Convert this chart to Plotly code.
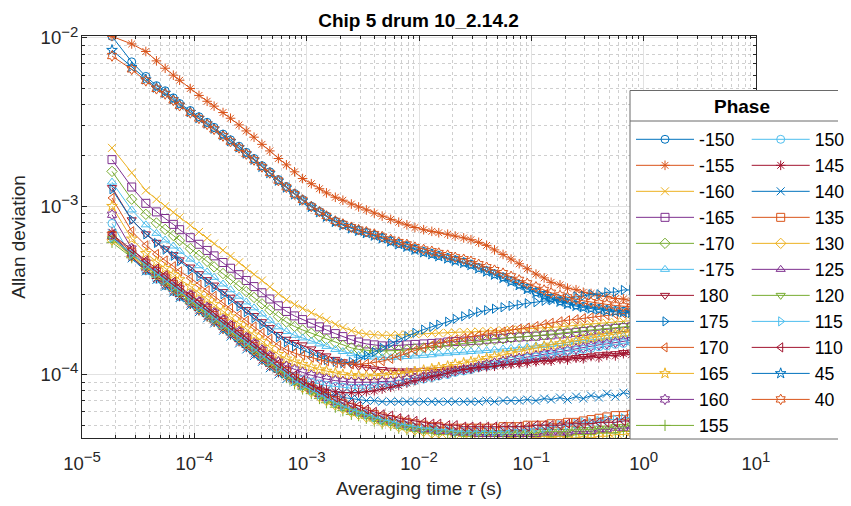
import plotly.graph_objects as go

# ---------------- data (Allan deviation in units of 1e-6) ----------------
UNIT = 1e-6
tau_s = [1.85e-5, 2.77e-5, 3.7e-5, 4.6e-5, 5.5e-5, 6.5e-5, 7.4e-5, 9.2e-5,
         1.1e-4, 1.3e-4, 1.5e-4, 1.8e-4, 2.1e-4, 2.5e-4, 2.9e-4, 3.4e-4, 4.0e-4, 4.7e-4, 5.6e-4, 6.6e-4, 7.8e-4, 9.2e-4,
         1.1e-3, 1.3e-3, 1.5e-3, 1.8e-3, 2.1e-3, 2.5e-3, 2.9e-3, 3.4e-3, 4.0e-3, 4.7e-3, 5.6e-3, 6.6e-3, 7.8e-3, 9.2e-3,
         1.1e-2, 1.3e-2, 1.5e-2, 1.8e-2, 2.1e-2, 2.5e-2, 2.9e-2, 3.4e-2, 4.0e-2, 4.7e-2, 5.6e-2, 6.6e-2, 7.8e-2, 9.2e-2,
         0.11, 0.13, 0.15, 0.18, 0.21, 0.25, 0.29, 0.34, 0.40, 0.47, 0.56, 0.66, 0.78, 0.92]

adev_m150 = [10200, 7200, 5900, 5200, 4850, 4400, 4070, 3700,
             3400, 3150, 2940, 2680, 2480, 2270, 2090, 1920, 1740, 1600, 1440, 1310, 1190, 1095,
             1000, 930, 875, 815, 780, 745, 720, 698, 675, 650, 622, 600, 580, 557,
             538, 524, 510, 495, 480, 466, 452, 432, 414, 397, 380, 362, 344, 326,
             310, 297, 285, 274, 266, 259, 254, 250, 247, 243, 240, 238, 236, 236]
adev_m155 = [10200, 9200, 8300, 7300, 6600, 6000, 5600, 5000,
             4550, 4200, 3930, 3600, 3330, 3040, 2800, 2570, 2330, 2130, 1920, 1760, 1600, 1460,
             1360, 1270, 1200, 1130, 1085, 1030, 990, 950, 910, 873, 835, 803, 775, 747,
             725, 709, 696, 682, 665, 648, 632, 610, 585, 550, 517, 485, 455, 425,
             395, 375, 353, 341, 326, 319, 308, 303, 294, 291, 283, 281, 274, 274]
adev_m160 = [2220, 1580, 1240, 1100, 1000, 920, 860, 770,
             703, 646, 600, 548, 506, 464, 428, 394, 362, 332, 302, 278, 261, 247,
             233, 220, 210, 199, 190, 182, 177, 174, 172, 171, 171, 172, 173, 174,
             175, 176, 176, 177, 178, 179, 179, 180, 181, 182, 183, 184, 185, 186,
             188, 189, 191, 192, 194, 196, 198, 199, 201, 203, 205, 207, 209, 211]
adev_m165 = [1890, 1300, 1040, 925, 845, 780, 725, 650,
             594, 546, 507, 463, 428, 392, 362, 333, 306, 281, 256, 237, 223, 212,
             202, 192, 184, 175, 168, 161, 156, 152, 150, 148, 148, 149, 150, 151,
             152, 153, 154, 156, 157, 158, 159, 160, 162, 163, 164, 166, 167, 168,
             169, 171, 172, 174, 176, 178, 180, 182, 184, 186, 188, 190, 192, 194]
adev_m170 = [1610, 1100, 895, 795, 728, 670, 625, 560,
             511, 470, 436, 398, 368, 337, 311, 287, 263, 242, 221, 205, 193, 184,
             176, 168, 162, 155, 149, 144, 141, 139, 138, 138, 138, 139, 140, 142,
             144, 146, 148, 150, 151, 153, 155, 157, 159, 161, 163, 165, 167, 168,
             170, 172, 174, 176, 178, 180, 182, 184, 186, 188, 190, 192, 194, 196]
adev_m175 = [1390, 950, 775, 690, 630, 580, 540, 485,
             443, 407, 378, 345, 319, 292, 270, 249, 229, 210, 192, 180, 171, 165,
             158, 152, 147, 141, 137, 133, 130, 128, 127, 126, 126, 127, 128, 129,
             130, 131, 133, 134, 135, 136, 137, 138, 139, 140, 142, 143, 144, 146,
             148, 149, 151, 153, 155, 157, 159, 161, 163, 165, 167, 169, 171, 173]
adev_180 = [1290, 830, 685, 610, 558, 515, 480, 435,
            397, 366, 340, 311, 288, 263, 243, 224, 206, 190, 173, 162, 155, 150,
            142, 135, 129, 123, 119, 115, 112, 110, 108, 107, 106, 105, 105, 105,
            106, 106, 107, 108, 108, 109, 110, 111, 112, 113, 115, 116, 117, 119,
            120, 121, 122, 124, 125, 126, 128, 129, 131, 132, 133, 135, 136, 138]
adev_175 = [1260, 830, 680, 605, 552, 508, 472, 420,
            383, 354, 329, 300, 278, 254, 235, 217, 199, 183, 167, 156, 147, 140,
            133, 127, 122, 119, 117, 119, 124, 130, 136, 144, 153, 161, 169, 177,
            185, 192, 198, 206, 214, 222, 229, 235, 241, 246, 251, 256, 260, 265,
            269, 274, 276, 282, 284, 291, 293, 300, 300, 308, 309, 318, 318, 326]
adev_170 = [1120, 710, 585, 520, 476, 440, 410, 375,
            342, 316, 293, 268, 248, 226, 209, 193, 177, 163, 149, 140, 134, 130,
            126, 122, 120, 117, 116, 115, 115, 116, 118, 120, 124, 129, 134, 139,
            144, 149, 153, 158, 161, 165, 168, 171, 174, 177, 180, 184, 187, 190,
            194, 199, 203, 207, 210, 213, 216, 219, 222, 225, 228, 231, 234, 237]
adev_165 = [1000, 640, 525, 467, 428, 394, 367, 335,
            306, 282, 262, 239, 221, 202, 187, 172, 158, 145, 132, 124, 119, 115,
            111, 107, 105, 102, 100, 99, 98, 98, 98, 99, 100, 101, 102, 104,
            106, 108, 110, 112, 115, 117, 119, 122, 125, 128, 131, 134, 137, 140,
            144, 147, 150, 153, 156, 159, 162, 165, 168, 171, 174, 177, 180, 183]
adev_160 = [890, 560, 462, 412, 376, 347, 323, 297,
            271, 251, 233, 212, 196, 180, 166, 153, 140, 129, 119, 112, 107, 103,
            99, 96, 94, 92, 91, 90, 90, 90, 90, 91, 91, 92, 94, 95,
            97, 99, 100, 102, 105, 107, 109, 112, 115, 117, 120, 123, 125, 127,
            129, 132, 134, 137, 139, 142, 144, 147, 150, 152, 155, 157, 160, 163]
adev_155 = [610, 494, 425, 380, 347, 317, 297, 265,
            242, 223, 207, 189, 175, 160, 148, 136, 124, 114, 104, 96, 88, 82,
            77, 72, 68, 64, 61, 58, 57, 55, 53, 51, 50, 48, 47, 46,
            45, 45, 44, 44, 44, 43, 43, 43, 43, 43, 43, 43, 43, 43,
            43, 43, 43, 43, 43, 44, 44, 44, 45, 45, 45, 46, 46, 47]
adev_150 = [790, 500, 413, 368, 337, 311, 290, 266,
            243, 225, 209, 190, 176, 161, 149, 137, 126, 116, 107, 101, 97, 93,
            90, 88, 86, 85, 84, 83, 83, 83, 84, 85, 86, 88, 90, 92,
            94, 96, 98, 100, 103, 105, 107, 110, 112, 114, 117, 120, 122, 125,
            127, 129, 131, 134, 137, 139, 141, 143, 146, 148, 151, 153, 156, 158]
adev_145 = [700, 500, 418, 372, 340, 313, 291, 262,
            240, 221, 205, 186, 172, 157, 145, 133, 122, 112, 103, 97, 93, 89,
            86, 83, 81, 79, 78, 78, 78, 79, 80, 82, 84, 86, 89, 92,
            95, 97, 99, 102, 105, 107, 108, 110, 111, 112, 114, 115, 116, 117,
            119, 121, 120, 123, 122, 125, 124, 128, 126, 130, 129, 133, 131, 135]
adev_140 = [690, 490, 410, 365, 333, 307, 285, 256,
            235, 216, 201, 182, 168, 153, 141, 129, 119, 109, 100, 94, 90, 86,
            82, 79, 77, 75, 73, 72, 71, 70, 70, 69, 69, 69, 69, 69,
            69, 69, 69, 69, 69, 69, 69, 69, 70, 69, 70, 70, 70, 71,
            70, 72, 71, 73, 71, 74, 72, 75, 73, 77, 74, 78, 76, 80]
adev_135 = [670, 534, 459, 410, 375, 342, 321, 286,
            261, 241, 224, 204, 189, 173, 160, 147, 134, 123, 112, 104, 95, 89,
            83, 78, 74, 70, 67, 64, 62, 60, 58, 56, 54, 53, 52, 51,
            50, 49, 49, 48, 48, 48, 48, 48, 48, 48, 49, 49, 49, 50,
            50, 50, 51, 51, 52, 52, 53, 54, 55, 56, 57, 57, 58, 58]
adev_130 = [630, 505, 437, 391, 357, 326, 306, 273,
            249, 230, 213, 195, 180, 165, 152, 140, 128, 117, 107, 99, 91, 84,
            79, 74, 70, 66, 63, 60, 58, 56, 54, 52, 51, 49, 48, 47,
            46, 45, 45, 44, 44, 44, 43, 43, 43, 43, 43, 42, 43, 43,
            42, 43, 42, 43, 42, 42, 43, 42, 43, 43, 44, 44, 45, 45]
adev_125 = [660, 522, 450, 403, 368, 336, 315, 281,
            257, 236, 219, 200, 186, 170, 157, 144, 131, 121, 110, 102, 93, 87,
            82, 76, 72, 68, 65, 62, 60, 58, 56, 54, 53, 51, 50, 48,
            47, 47, 46, 46, 45, 45, 45, 44, 44, 44, 44, 44, 44, 44,
            44, 45, 45, 45, 45, 46, 46, 46, 47, 47, 48, 48, 49, 49]
adev_120 = [640, 514, 442, 395, 361, 330, 309, 276,
            252, 232, 215, 197, 182, 166, 154, 141, 129, 119, 108, 100, 92, 85,
            80, 75, 71, 67, 64, 61, 59, 57, 55, 53, 52, 50, 49, 48,
            47, 47, 46, 46, 45, 45, 45, 45, 45, 45, 45, 45, 45, 45,
            45, 46, 46, 46, 46, 47, 47, 47, 48, 48, 49, 49, 50, 50]
adev_115 = [650, 519, 446, 399, 364, 333, 312, 278,
            254, 234, 217, 198, 184, 168, 155, 143, 130, 120, 109, 101, 92, 86,
            81, 76, 72, 68, 65, 62, 60, 58, 56, 54, 53, 51, 50, 49,
            48, 48, 47, 47, 46, 46, 46, 46, 46, 46, 46, 47, 47, 47,
            48, 48, 49, 50, 50, 51, 52, 52, 53, 54, 54, 55, 56, 56]
adev_110 = [680, 553, 476, 426, 389, 355, 333, 297,
            271, 250, 232, 212, 196, 179, 166, 152, 139, 128, 116, 108, 99, 92,
            86, 81, 77, 73, 70, 67, 65, 62, 60, 58, 57, 55, 54, 53,
            52, 51, 51, 50, 50, 49, 49, 49, 49, 49, 49, 49, 49, 49,
            50, 50, 50, 50, 51, 51, 51, 51, 52, 52, 52, 53, 53, 53]
adev_45 = [8450, 6700, 5650, 5050, 4700, 4300, 4000, 3620,
           3330, 3090, 2880, 2630, 2430, 2230, 2050, 1885, 1710, 1570, 1415, 1288, 1172, 1080,
           988, 918, 864, 805, 771, 736, 712, 690, 667, 642, 615, 593, 573, 550,
           531, 517, 503, 488, 473, 459, 446, 426, 408, 391, 374, 356, 339, 321,
           305, 292, 281, 270, 262, 255, 250, 246, 243, 239, 236, 234, 232, 232]
adev_40 = [7800, 6500, 5550, 4980, 4640, 4250, 3950, 3580,
           3320, 3060, 2860, 2610, 2420, 2220, 2040, 1880, 1710, 1575, 1420, 1295, 1180, 1090,
           995, 928, 875, 817, 784, 750, 726, 705, 683, 660, 634, 612, 593, 571,
           553, 540, 527, 512, 497, 484, 471, 452, 434, 417, 400, 383, 365, 348,
           332, 318, 306, 295, 287, 280, 274, 269, 265, 261, 257, 254, 251, 250]

phase_labels = ["-150", "-155", "-160", "-165", "-170", "-175", "180", "175", "170", "165", "160", "155",
                "150", "145", "140", "135", "130", "125", "120", "115", "110", "45", "40"]
series_values = [adev_m150, adev_m155, adev_m160, adev_m165, adev_m170, adev_m175, adev_180, adev_175,
                 adev_170, adev_165, adev_160, adev_155, adev_150, adev_145, adev_140, adev_135, adev_130,
                 adev_125, adev_120, adev_115, adev_110, adev_45, adev_40]
for lab, vals in zip(phase_labels, series_values):
    assert len(vals) == len(tau_s), (lab, len(vals), len(tau_s))

SUP = "<sup><span style='font-size:15px'>{}</span></sup>"
x_tick_vals = [1e-5, 1e-4, 1e-3, 1e-2, 1e-1, 1e0, 1e1]
x_tick_text = ["10" + SUP.format(e) for e in ["\u22125", "\u22124", "\u22123", "\u22122", "\u22121", "0", "1"]]
y_tick_vals = [1e-4, 1e-3, 1e-2]
y_tick_text = ["10" + SUP.format(e) for e in ["\u22124", "\u22123", "\u22122"]]

# ---------------- styles ----------------
colors = ["#0072BD", "#D95319", "#EDB120", "#7E2F8E", "#77AC30", "#4DBEEE", "#A2142F"]
symbols = ["circle-open", "asterisk-open", "x-thin-open", "square-open", "diamond-open",
           "triangle-up-open", "triangle-down-open", "triangle-right-open", "triangle-left-open",
           "star-open", "hexagram-open", "cross-thin-open"]
FONT = "Liberation Sans, Arial, sans-serif"
AX = "#262626"

# plot area in pixels
L, R, T, B = 82, 756, 36, 438
W, H = R - L, B - T
def px_x(p):
    return (p - L) / W
def px_y(p):
    return (B - p) / H

fig = go.Figure()
for i, (lab, vals) in enumerate(zip(phase_labels, series_values)):
    c = colors[i % 7]
    sym = symbols[i % 12]
    fig.add_trace(go.Scatter(
        x=tau_s, y=[v * UNIT for v in vals], mode="lines+markers", name=lab,
        line=dict(color=c, width=1),
        marker=dict(symbol=sym, size=8, color=c, line=dict(color=c, width=1)),
        legend="legend" if i < 12 else "legend2",
    ))

minor_x = [m * 10.0 ** e for e in range(-5, 1) for m in range(2, 10)]
minor_y = [m * 10.0 ** e for e in range(-5, -1) for m in range(2, 10) if m * 10.0 ** e > 4.2e-5]

common_axis = dict(
    type="log", ticks="inside", ticklen=5, tickwidth=1, tickcolor=AX,
    showline=True, linecolor=AX, linewidth=1, mirror="ticks",
    showgrid=True, gridcolor="#e2e2e2", gridwidth=1, zeroline=False,
    tickfont=dict(family=FONT, size=18.5, color=AX),
)

fig.update_layout(
    width=851, height=506,
    paper_bgcolor="white", plot_bgcolor="white",
    margin=dict(l=L, r=851 - R, t=T, b=506 - B, autoexpand=False),
    font=dict(family=FONT, color=AX),
    title=dict(text="<b>Chip 5 drum 10_2.14.2</b>", x=418.5 / 851, xanchor="center",
               y=1 - 20 / 506, yanchor="middle", font=dict(family=FONT, size=19, color="#000000")),
    xaxis=dict(**common_axis, range=[-5, 1], tickmode="array", tickvals=x_tick_vals, ticktext=x_tick_text,
               ticklabelstandoff=9,
               minor=dict(tickmode="array", tickvals=minor_x, ticks="inside", ticklen=3, tickcolor=AX,
                          showgrid=True, gridcolor="#cfcfcf", griddash="dot", gridwidth=1),
               title=dict(text="Averaging time <i>τ</i> (s)", font=dict(family=FONT, size=19, color=AX), standoff=8)),
    yaxis=dict(**common_axis, range=[-4.377, -1.989], tickmode="array", tickvals=y_tick_vals, ticktext=y_tick_text,
               ticklabelstandoff=-1,
               minor=dict(tickmode="array", tickvals=minor_y, ticks="inside", ticklen=3, tickcolor=AX,
                          showgrid=True, gridcolor="#cfcfcf", griddash="dot", gridwidth=1),
               title=dict(text="Allan deviation", font=dict(family=FONT, size=19, color=AX), standoff=9)),
    legend=dict(x=px_x(631), xanchor="left", y=px_y(121.3), yanchor="top", bgcolor="rgba(0,0,0,0)",
                borderwidth=0, itemwidth=58, tracegroupgap=0,
                font=dict(family=FONT, size=17.7, color="#000000")),
    legend2=dict(x=px_x(746.7), xanchor="left", y=px_y(121.3), yanchor="top", bgcolor="rgba(0,0,0,0)",
                 borderwidth=0, itemwidth=58, tracegroupgap=0,
                 font=dict(family=FONT, size=17.7, color="#000000")),
    showlegend=True,
)

# legend box (white, drawn over the data) with header line
BOX = "#6a6a6a"
shapes = [
    dict(type="rect", xref="paper", yref="paper", x0=px_x(630), x1=px_x(860), y0=px_y(439), y1=px_y(90.5),
         fillcolor="white", line=dict(width=0), layer="above"),
    dict(type="line", xref="paper", yref="paper", x0=px_x(630), x1=px_x(630), y0=px_y(439), y1=px_y(90.5),
         line=dict(color=BOX, width=1), layer="above"),
    dict(type="line", xref="paper", yref="paper", x0=px_x(630), x1=px_x(838), y0=px_y(90.5), y1=px_y(90.5),
         line=dict(color=BOX, width=1), layer="above"),
    dict(type="line", xref="paper", yref="paper", x0=px_x(630), x1=px_x(838), y0=px_y(121), y1=px_y(121),
         line=dict(color=BOX, width=1), layer="above"),
    dict(type="line", xref="paper", yref="paper", x0=px_x(630), x1=px_x(838), y0=px_y(439), y1=px_y(439),
         line=dict(color=BOX, width=1), layer="above"),
]
fig.update_layout(shapes=shapes)
fig.add_annotation(text="<b>Phase</b>", xref="paper", yref="paper", x=px_x(741.5), y=px_y(106),
                   xanchor="center", yanchor="middle", showarrow=False,
                   font=dict(family=FONT, size=19, color="#000000"))

fig.write_html("out.html")
